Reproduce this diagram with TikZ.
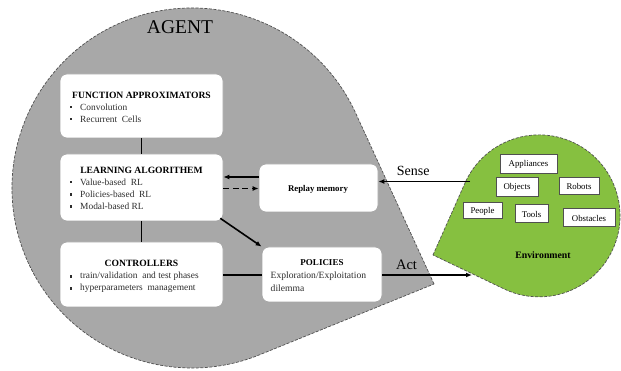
\documentclass[tikz,border=0pt]{standalone}
\usepackage{fontspec}
\setmainfont{Liberation Serif}
\usetikzlibrary{arrows.meta}
\definecolor{agentgray}{RGB}{168,168,168}
\definecolor{envgreen}{RGB}{134,192,64}
\definecolor{edgegray}{RGB}{80,80,80}
\definecolor{txtgray}{RGB}{45,45,45}
\begin{document}
\begin{tikzpicture}[x=1pt,y=-1pt,
  blockbox/.style={draw=black!35,line width=0.7pt,fill=white,rounded corners=7pt},
  envitem/.style={draw=edgegray,line width=1pt,fill=white,inner sep=0pt,font=\fontsize{8.8}{9}\selectfont},
  boxtitle/.style={font=\fontsize{9.6}{11}\selectfont\bfseries,inner sep=0pt},
  itemtxt/.style={font=\fontsize{9.4}{10}\selectfont,text=txtgray,inner sep=0pt,anchor=west},
  bul/.style={fill=txtgray,minimum size=2.4pt,inner sep=0pt},
  link/.style={line width=1.9pt},
  arr/.style={line width=1.6pt,-{Latex[length=6pt,width=5pt]}}]
\useasboundingbox (0,0) rectangle (621,371);
\fill[white] (0,0) rectangle (621,371);
% agent teardrop
\draw[fill=agentgray,draw=edgegray,dashed,dash pattern=on 3pt off 1.5pt,line width=0.7pt]
  (434,284) -- (355.6,113) arc[start angle=-24.62,end angle=-292.1,radius=180] -- cycle;
% environment teardrop
\draw[fill=envgreen,draw=edgegray,dashed,dash pattern=on 3pt off 1.5pt,line width=0.7pt]
  (433,255) -- (465,183) arc[start angle=203.96,end angle=475.6,radius=81] -- cycle;
\node[font=\fontsize{19.5}{21}\selectfont] (agent) at (180,27) {AGENT};
% boxes
\node[blockbox,minimum width=163pt,minimum height=64pt] (fa) at (141.5,106) {};
\node[blockbox,minimum width=163pt,minimum height=67pt] (la) at (141.5,187.5) {};
\node[blockbox,minimum width=163pt,minimum height=65pt] (ct) at (141.5,274.5) {};
\node[blockbox,minimum width=119pt,minimum height=48pt] (rm) at (318.5,188) {};
\node[blockbox,minimum width=120pt,minimum height=55pt] (po) at (322,274.5) {};
% texts FA
\node[boxtitle] (fat) at (141.5,95) {FUNCTION APPROXIMATORS};
\node[bul] (b1) at (71,107) {};
\node[itemtxt] (i1) at (80,107) {Convolution};
\node[bul] (b2) at (71,119) {};
\node[itemtxt] (i2) at (80,119) {Recurrent\ \ Cells};
% LA
\node[boxtitle] (lat) at (141.5,170) {LEARNING ALGORITHEM};
\node[bul] (b3) at (71,182) {};
\node[itemtxt] (i3) at (80,182) {Value-based\ \ RL};
\node[bul] (b4) at (71,194.5) {};
\node[itemtxt] (i4) at (80,194.5) {Policies-based\ \ RL};
\node[bul] (b5) at (71,206.5) {};
\node[itemtxt] (i5) at (80,206.5) {Modal-based RL};
% CT
\node[boxtitle] (ctt) at (141.5,263) {CONTROLLERS};
\node[bul] (b6) at (71,276.5) {};
\node[itemtxt] (i6) at (80,276.5) {train/validation\ \ and test phases};
\node[bul] (b7) at (71,288.5) {};
\node[itemtxt] (i7) at (80,288.5) {hyperparameters\ \ management};
% RM
\node[font=\fontsize{8.8}{10}\selectfont\bfseries] (rmt) at (318,189.5) {Replay memory};
% PO
\node[boxtitle,font=\fontsize{9}{10}\selectfont\bfseries] (pot) at (322,263) {POLICIES};
\node[itemtxt,font=\fontsize{9.6}{11}\selectfont] (p1) at (270.5,276) {Exploration/Exploitation};
\node[itemtxt,font=\fontsize{9.6}{11}\selectfont] (p2) at (270.5,288) {dilemma};
% environment items
\node[envitem,minimum width=57pt,minimum height=19pt] (ap) at (528.5,164.5) {Appliances};
\node[envitem,minimum width=42pt,minimum height=19pt] (ob) at (517,187.5) {Objects};
\node[envitem,minimum width=40pt,minimum height=17pt] (ro) at (579,186.5) {Robots};
\node[envitem,minimum width=39pt,minimum height=16pt] (pe) at (482.5,211) {People};
\node[envitem,minimum width=33pt,minimum height=18pt] (to) at (531.5,214) {Tools};
\node[envitem,minimum width=52pt,minimum height=18pt] (os) at (589,218) {Obstacles};
\node[font=\fontsize{9.8}{11}\selectfont\bfseries] (env) at (543,255) {Environment};
% connectors
\coordinate (senseS) at (470,181.5);
\coordinate (actE) at (472,275);
\draw[link] (fa.south) -- (la.north);
\draw[link] (la.south) -- (ct.north);
\draw[arr] (rm.west |- 0,177) -- (la.east |- 0,177);
\draw[arr,dashed,dash pattern=on 6pt off 3.5pt] (la.east |- 0,188.5) -- (rm.west |- 0,188.5);
\draw[arr] (la.south east) ++(-3,-3) -- (po.north west);
\draw[link] (ct.east |- 0,275) -- (po.west |- 0,275);
\draw[arr] (senseS) -- (rm.east |- senseS) node[pos=0.62,above=2pt,font=\fontsize{14}{16}\selectfont] (sl) {Sense};
\draw[arr] (po.east |- actE) -- (actE) node[pos=0.27,above=1pt,font=\fontsize{14.5}{16}\selectfont] (al) {Act};
\end{tikzpicture}
\end{document}
